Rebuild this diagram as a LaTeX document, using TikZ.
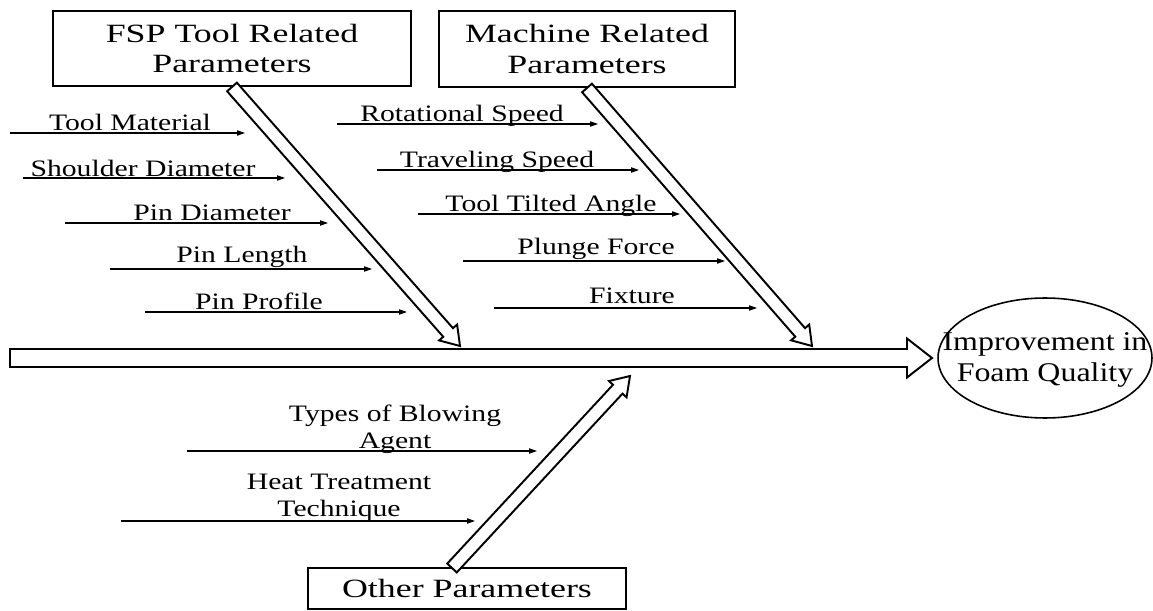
\documentclass[tikz,border=0pt]{standalone}
\usepackage{fontspec}
\setmainfont{Liberation Serif}
\newfontfamily\boxfont{Liberation Serif}[FakeStretch=1.36]
\newfontfamily\ribfont{Liberation Serif}[FakeStretch=1.26]
\newfontfamily\goalfont{Liberation Serif}[FakeStretch=1.18]
\usetikzlibrary{calc,arrows.meta,shapes.geometric}
\newcommand\hollowarrow[5]{%
  \coordinate (hb) at ($(#2)!#5!(#1)$);
  \draw[blockarrow] ($(#1)!#3!90:(#2)$) -- ($(hb)!#3!-90:(#1)$) -- ($(hb)!#4!-90:(#1)$) -- (#2)
    -- ($(hb)!#4!90:(#1)$) -- ($(hb)!#3!90:(#1)$) -- ($(#1)!#3!-90:(#2)$) -- cycle;}
\begin{document}
\begin{tikzpicture}[x=0.02cm,y=-0.02cm,
  catbox/.style={draw, line width=1.1pt, inner sep=0pt, align=center,
    font=\boxfont\fontsize{15}{17.6}\selectfont},
  goalshape/.style={ellipse, draw, line width=0.9pt, inner sep=0pt,
    minimum width=4.28cm, minimum height=2.4cm},
  goaltext/.style={align=center, inner sep=0pt, font=\goalfont\fontsize{15.4}{18.1}\selectfont},
  ribtext/.style={anchor=base, inner sep=0pt, font=\ribfont\fontsize{13.4}{15.3}\selectfont},
  lowtext/.style={align=center, inner sep=0pt, font=\ribfont\fontsize{13.4}{15.3}\selectfont},
  rib/.style={line width=0.6pt, -{Triangle[length=4.5pt,width=3pt]}},
  blockarrow/.style={draw, fill=white, line width=1.1pt, line join=miter}]
\useasboundingbox (0,0) rectangle (1153,611);

% category boxes and goal
\node[catbox, minimum width=7.16cm, minimum height=1.5cm] (fsp) at (232,48.5) {FSP Tool Related\\Parameters};
\node[catbox, minimum width=5.92cm, minimum height=1.52cm] (mach) at (587,49) {Machine Related\\Parameters};
\node[catbox, minimum width=6.36cm, minimum height=0.82cm] (oth) at (467,588.5) {Other Parameters};
\node[goalshape] (goal) at (1045,358) {};
\node[goaltext] (goaltxt) at (1045,360) {Improvement in\\Foam Quality};

% spine and bones
\coordinate (spineTail) at (10,358);
\coordinate (spineTip) at (932,358);
\hollowarrow{spineTail}{spineTip}{0.18cm}{0.39cm}{0.5cm}
\coordinate (fspTip) at (460,346);
\hollowarrow{fsp.south}{fspTip}{0.13cm}{0.24cm}{0.36cm}
\coordinate (machTip) at (812,346);
\hollowarrow{mach.south}{machTip}{0.13cm}{0.24cm}{0.36cm}
\coordinate (othTail) at (452,568);
\coordinate (othTip) at (630,376);
\hollowarrow{othTail}{othTip}{0.13cm}{0.24cm}{0.36cm}

% rib lines
\foreach \n/\xa/\xb/\y in {l1/10/245/133, l2/23/285/178, l3/65/328/223, l4/110/372/269, l5/145/407/312,
  r1/337/598/124, r2/377/639/170, r3/418/680/214, r4/463/725/261, r5/494/757/308,
  b1/187/537/451, b2/121/475/521}{
  \coordinate (\n a) at (\xa,\y);
  \coordinate (\n b) at (\xb,\y);
  \draw[rib] (\n a) -- (\n b);
}

% rib labels
\node[ribtext] (tl1) at (130,131) {Tool Material};
\node[ribtext] (tl2) at (143,177) {Shoulder Diameter};
\node[ribtext] (tl3) at (212,221) {Pin Diameter};
\node[ribtext] (tl4) at (242,263) {Pin Length};
\node[ribtext] (tl5) at (259,310) {Pin Profile};
\node[ribtext] (tr1) at (462,122) {Rotational Speed};
\node[ribtext] (tr2) at (497,168) {Traveling Speed};
\node[ribtext] (tr3) at (551,212) {Tool Tilted Angle};
\node[ribtext] (tr4) at (596,255) {Plunge Force};
\node[ribtext] (tr5) at (632,303) {Fixture};
\node[lowtext] (tb1) at (395,429) {Types of Blowing\\Agent};
\node[lowtext] (tb2) at (339,498) {Heat Treatment\\Technique};
\end{tikzpicture}
\end{document}
